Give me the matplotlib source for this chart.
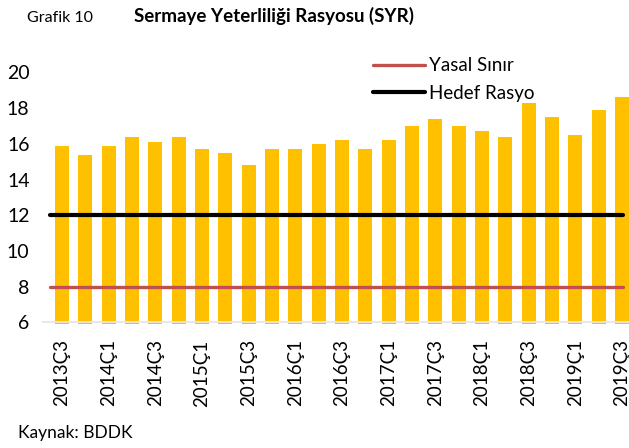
import matplotlib
matplotlib.use("Agg")
import matplotlib.pyplot as plt
import numpy as np

plt.rcParams['font.family'] = ['Lato', 'DejaVu Sans']

# quarterly capital adequacy ratio, 2013Q3 .. 2019Q3
quarters = ['2013Ç3', '2013Ç4', '2014Ç1', '2014Ç2', '2014Ç3', '2014Ç4',
            '2015Ç1', '2015Ç2', '2015Ç3', '2015Ç4', '2016Ç1', '2016Ç2',
            '2016Ç3', '2016Ç4', '2017Ç1', '2017Ç2', '2017Ç3', '2017Ç4',
            '2018Ç1', '2018Ç2', '2018Ç3', '2018Ç4', '2019Ç1', '2019Ç2',
            '2019Ç3']
syr = [15.9, 15.4, 15.9, 16.4, 16.1, 16.4, 15.7, 15.5, 14.8, 15.7,
       15.7, 16.0, 16.2, 15.7, 16.2, 17.0, 17.4, 17.0, 16.7, 16.4,
       18.3, 17.5, 16.5, 17.9, 18.6]
yasal_sinir = 8
hedef_rasyo = 12

fig = plt.figure(figsize=(6.29, 4.48), dpi=100)
ax = fig.add_axes([42 / 629, 1 - 324 / 448, 1 - 42 / 629, (324 - 60) / 448])

x = np.arange(len(quarters))
ax.bar(x, syr, width=0.6, bottom=0, color='#FFC000', zorder=2)

l1, = ax.plot([-0.5, len(x) - 0.95], [yasal_sinir] * 2, color='#C0504D', lw=2.4,
              solid_capstyle='round', zorder=3, label='Yasal Sınır')
l2, = ax.plot([-0.5, len(x) - 0.95], [hedef_rasyo] * 2, color='black', lw=3.0,
              solid_capstyle='round', zorder=3, label='Hedef Rasyo')

ax.set_ylim(5.9, 20.7)
ax.set_xlim(-0.85, len(x) - 0.7)
ax.set_yticks(range(6, 21, 2))
ax.set_xticks(x[::2])
ax.set_xticklabels(quarters[::2], rotation=90, fontsize=13.5)
ax.tick_params(axis='y', labelsize=14, length=0, pad=9)
ax.tick_params(axis='x', length=0, pad=11)
for s in ax.spines.values():
    s.set_visible(False)
# light gray baseline drawn across the bar feet
ax.axhline(6, color='#E6E6E6', lw=1.3, zorder=4)

fig.legend(handles=[l1, l2], loc='upper left', bbox_to_anchor=(364 / 629, 1 - 48 / 448),
           frameon=False, fontsize=13.5, handlelength=2.75, handletextpad=0.2,
           labelspacing=0.55, borderpad=0)

fig.text(27 / 629, 1 - 18 / 448, 'Grafik 10', fontsize=11.5, va='center')
fig.text(274 / 629, 1 - 16 / 448, 'Sermaye Yeterliliği Rasyosu (SYR)', fontsize=13.5,
         fontweight='bold', ha='center', va='center')
fig.text(18 / 629, 1 - 433 / 448, 'Kaynak: BDDK', fontsize=12.5, va='center')

fig.savefig('out.png', dpi=100)
